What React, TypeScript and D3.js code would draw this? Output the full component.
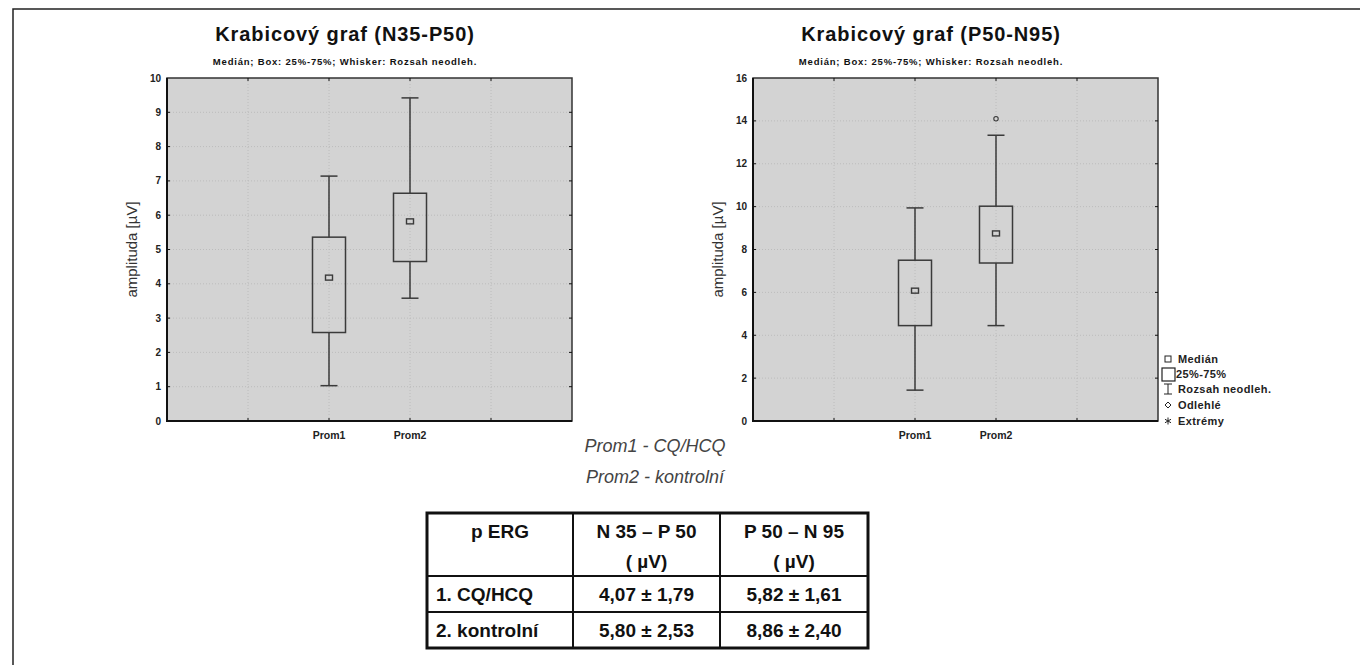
import { useEffect, useRef } from 'react';
import * as d3 from 'd3';

// box plot data
const categories = ['Prom1', 'Prom2'];

const n35p50Min = [1.03, 3.58];
const n35p50Q1 = [2.58, 4.65];
const n35p50Median = [4.18, 5.82];
const n35p50Q3 = [5.36, 6.64];
const n35p50Max = [7.14, 9.42];
const n35p50Outliers: number[][] = [[], []];
const n35p50Ticks = [0, 1, 2, 3, 4, 5, 6, 7, 8, 9, 10];

const p50n95Min = [1.44, 4.45];
const p50n95Q1 = [4.45, 7.37];
const p50n95Median = [6.08, 8.75];
const p50n95Q3 = [7.5, 10.02];
const p50n95Max = [9.94, 13.33];
const p50n95Outliers: number[][] = [[], [14.1]];
const p50n95Ticks = [0, 2, 4, 6, 8, 10, 12, 14, 16];

const legendItems = ['Medián', '25%-75%', 'Rozsah neodleh.', 'Odlehlé', 'Extrémy'];
const captions = ['Prom1 - CQ/HCQ', 'Prom2 - kontrolní'];

const tableHeader = [['p ERG'], ['N 35 – P 50', '( µV)'], ['P 50 – N 95', '( µV)']];
const tableRows = [
  ['1. CQ/HCQ', '4,07 ± 1,79', '5,82 ± 1,61'],
  ['2. kontrolní', '5,80 ± 2,53', '8,86 ± 2,40'],
];

const FONT = "'Liberation Sans', Arial, sans-serif";
const PLOT_BG = '#d3d3d3';
const INK = '#3a3a3a';

interface BoxPanel {
  title: string;
  left: number;
  min: number[];
  q1: number[];
  median: number[];
  q3: number[];
  max: number[];
  outliers: number[][];
  ticks: number[];
}

const panels: BoxPanel[] = [
  {
    title: 'Krabicový graf (N35-P50)',
    left: 167,
    min: n35p50Min,
    q1: n35p50Q1,
    median: n35p50Median,
    q3: n35p50Q3,
    max: n35p50Max,
    outliers: n35p50Outliers,
    ticks: n35p50Ticks,
  },
  {
    title: 'Krabicový graf (P50-N95)',
    left: 753,
    min: p50n95Min,
    q1: p50n95Q1,
    median: p50n95Median,
    q3: p50n95Q3,
    max: p50n95Max,
    outliers: p50n95Outliers,
    ticks: p50n95Ticks,
  },
];

function drawPanel(svg: d3.Selection<SVGSVGElement, unknown, null, undefined>, p: BoxPanel) {
  const top = 78;
  const bottom = 421;
  const width = 405;
  const right = p.left + width;

  const x = d3.scaleLinear().domain([-1, 4]).range([p.left, right]);
  const y = d3
    .scaleLinear()
    .domain([0, d3.max(p.ticks) || 0])
    .range([bottom, top]);

  const g = svg.append('g');

  // titles
  const cx = p.left + 178;
  g.append('text')
    .attr('x', cx)
    .attr('y', 41)
    .attr('text-anchor', 'middle')
    .attr('font-family', FONT)
    .attr('font-weight', 'bold')
    .attr('font-size', 20)
    .attr('letter-spacing', 0.9)
    .attr('fill', '#111')
    .text(p.title);
  g.append('text')
    .attr('x', cx)
    .attr('y', 65)
    .attr('text-anchor', 'middle')
    .attr('font-family', FONT)
    .attr('font-weight', 'bold')
    .attr('font-size', 9.5)
    .attr('letter-spacing', 0.8)
    .attr('fill', '#111')
    .text('Medián; Box: 25%-75%; Whisker: Rozsah neodleh.');

  // plot area
  g.append('rect')
    .attr('x', p.left)
    .attr('y', top)
    .attr('width', width)
    .attr('height', bottom - top)
    .attr('fill', PLOT_BG);

  const xTicks = [0, 1, 2, 3];
  const yInner = p.ticks.slice(1, -1);

  // dotted grid
  g.selectAll('.gx')
    .data(xTicks)
    .join('line')
    .attr('x1', (d) => x(d))
    .attr('x2', (d) => x(d))
    .attr('y1', top)
    .attr('y2', bottom)
    .attr('stroke', '#bcbcbc')
    .attr('stroke-dasharray', '1,2');
  g.selectAll('.gy')
    .data(yInner)
    .join('line')
    .attr('x1', p.left)
    .attr('x2', right)
    .attr('y1', (d) => y(d))
    .attr('y2', (d) => y(d))
    .attr('stroke', '#bcbcbc')
    .attr('stroke-dasharray', '1,2');

  // frame
  g.append('rect')
    .attr('x', p.left)
    .attr('y', top)
    .attr('width', width)
    .attr('height', bottom - top)
    .attr('fill', 'none')
    .attr('stroke', '#333')
    .attr('stroke-width', 1.5);
  g.append('line')
    .attr('x1', p.left)
    .attr('x2', p.left)
    .attr('y1', top)
    .attr('y2', bottom + 1)
    .attr('stroke', '#111')
    .attr('stroke-width', 2);
  g.append('line')
    .attr('x1', p.left - 1)
    .attr('x2', right)
    .attr('y1', bottom)
    .attr('y2', bottom)
    .attr('stroke', '#111')
    .attr('stroke-width', 2);

  // inward ticks on all sides
  xTicks.forEach((t) => {
    g.append('line').attr('x1', x(t)).attr('x2', x(t)).attr('y1', bottom).attr('y2', bottom - 3).attr('stroke', '#111');
    g.append('line').attr('x1', x(t)).attr('x2', x(t)).attr('y1', top).attr('y2', top + 3).attr('stroke', '#111');
  });
  yInner.forEach((t) => {
    g.append('line').attr('x1', p.left).attr('x2', p.left + 3).attr('y1', y(t)).attr('y2', y(t)).attr('stroke', '#111');
    g.append('line').attr('x1', right).attr('x2', right - 3).attr('y1', y(t)).attr('y2', y(t)).attr('stroke', '#111');
  });

  // y tick labels
  g.selectAll('.yl')
    .data(p.ticks)
    .join('text')
    .attr('x', p.left - 6)
    .attr('y', (d) => y(d) + 3.5)
    .attr('text-anchor', 'end')
    .attr('font-family', FONT)
    .attr('font-weight', 'bold')
    .attr('font-size', 10)
    .attr('fill', '#222')
    .text((d) => d);

  // x tick labels
  g.selectAll('.xl')
    .data(categories)
    .join('text')
    .attr('x', (_, i) => x(i + 1))
    .attr('y', 439)
    .attr('text-anchor', 'middle')
    .attr('font-family', FONT)
    .attr('font-weight', 'bold')
    .attr('font-size', 10.5)
    .attr('fill', '#222')
    .text((d) => d);

  // y axis title
  g.append('text')
    .attr('transform', `translate(${p.left - 30},${(top + bottom) / 2}) rotate(-90)`)
    .attr('text-anchor', 'middle')
    .attr('font-family', FONT)
    .attr('font-size', 15)
    .attr('fill', '#333')
    .text('amplituda  [µV]');

  // boxes
  const boxW = 33;
  const capW = 17;
  categories.forEach((_, i) => {
    const bx = x(i + 1);
    const bg = g.append('g').attr('stroke', INK).attr('stroke-width', 1.5).attr('fill', 'none');
    bg.append('line').attr('x1', bx).attr('x2', bx).attr('y1', y(p.max[i])).attr('y2', y(p.q3[i]));
    bg.append('line').attr('x1', bx).attr('x2', bx).attr('y1', y(p.q1[i])).attr('y2', y(p.min[i]));
    bg.append('line').attr('x1', bx - capW / 2).attr('x2', bx + capW / 2).attr('y1', y(p.max[i])).attr('y2', y(p.max[i]));
    bg.append('line').attr('x1', bx - capW / 2).attr('x2', bx + capW / 2).attr('y1', y(p.min[i])).attr('y2', y(p.min[i]));
    bg.append('rect')
      .attr('x', bx - boxW / 2)
      .attr('y', y(p.q3[i]))
      .attr('width', boxW)
      .attr('height', y(p.q1[i]) - y(p.q3[i]));
    bg.append('rect')
      .attr('x', bx - 3.5)
      .attr('y', y(p.median[i]) - 2.5)
      .attr('width', 7)
      .attr('height', 5)
      .attr('stroke-width', 1.4);
    p.outliers[i].forEach((o) => {
      bg.append('circle').attr('cx', bx).attr('cy', y(o)).attr('r', 2.2).attr('stroke-width', 1.1);
    });
  });
}

function drawLegend(svg: d3.Selection<SVGSVGElement, unknown, null, undefined>) {
  const lx = 1168;
  const ys = [359, 374, 389, 405, 421];
  const g = svg.append('g').attr('stroke', '#222').attr('fill', 'none');
  g.append('rect').attr('x', lx - 3).attr('y', ys[0] - 3).attr('width', 6).attr('height', 6).attr('stroke-width', 1);
  g.append('rect').attr('x', lx - 6).attr('y', ys[1] - 6).attr('width', 13).attr('height', 13).attr('stroke-width', 1.2);
  g.append('line').attr('x1', lx).attr('x2', lx).attr('y1', ys[2] - 5).attr('y2', ys[2] + 5);
  g.append('line').attr('x1', lx - 4).attr('x2', lx + 4).attr('y1', ys[2] - 5).attr('y2', ys[2] - 5);
  g.append('line').attr('x1', lx - 4).attr('x2', lx + 4).attr('y1', ys[2] + 5).attr('y2', ys[2] + 5);
  g.append('path')
    .attr('d', `M${lx},${ys[3] - 3}L${lx + 3},${ys[3]}L${lx},${ys[3] + 3}L${lx - 3},${ys[3]}Z`)
    .attr('stroke-width', 1);
  [0, 60, 120].forEach((a) => {
    const r = (a * Math.PI) / 180;
    g.append('line')
      .attr('x1', lx - 3.5 * Math.sin(r))
      .attr('x2', lx + 3.5 * Math.sin(r))
      .attr('y1', ys[4] - 3.5 * Math.cos(r))
      .attr('y2', ys[4] + 3.5 * Math.cos(r))
      .attr('stroke-width', 1);
  });
  svg
    .append('g')
    .selectAll('text')
    .data(legendItems)
    .join('text')
    .attr('x', (_, i) => (i === 1 ? 1176 : 1178))
    .attr('y', (_, i) => ys[i] + 4)
    .attr('font-family', FONT)
    .attr('font-weight', 'bold')
    .attr('font-size', 11)
    .attr('letter-spacing', 0.4)
    .attr('fill', '#222')
    .text((d) => d);
}

function drawTable(svg: d3.Selection<SVGSVGElement, unknown, null, undefined>) {
  const colX = [427, 573, 720, 868];
  const rowY = [513, 576, 612, 648];
  const g = svg.append('g');
  g.append('rect')
    .attr('x', colX[0])
    .attr('y', rowY[0])
    .attr('width', colX[3] - colX[0])
    .attr('height', rowY[3] - rowY[0])
    .attr('fill', '#fff')
    .attr('stroke', '#111')
    .attr('stroke-width', 3);
  colX.slice(1, 3).forEach((cx) => {
    g.append('line').attr('x1', cx).attr('x2', cx).attr('y1', rowY[0]).attr('y2', rowY[3]).attr('stroke', '#111').attr('stroke-width', 2);
  });
  rowY.slice(1, 3).forEach((ry) => {
    g.append('line').attr('x1', colX[0]).attr('x2', colX[3]).attr('y1', ry).attr('y2', ry).attr('stroke', '#111').attr('stroke-width', 2);
  });

  const textAttrs = (t: d3.Selection<SVGTextElement, unknown, null, undefined>) =>
    t.attr('font-family', FONT).attr('font-weight', 'bold').attr('font-size', 19).attr('fill', '#111');

  tableHeader.forEach((lines, c) => {
    lines.forEach((line, k) => {
      textAttrs(
        g
          .append('text')
          .attr('x', (colX[c] + colX[c + 1]) / 2)
          .attr('y', 538 + k * 30)
          .attr('text-anchor', 'middle')
          .text(line)
      );
    });
  });
  tableRows.forEach((row, r) => {
    row.forEach((cell, c) => {
      textAttrs(
        g
          .append('text')
          .attr('x', c === 0 ? colX[0] + 9 : (colX[c] + colX[c + 1]) / 2)
          .attr('y', (rowY[r + 1] + rowY[r + 2]) / 2 + 7)
          .attr('text-anchor', c === 0 ? 'start' : 'middle')
          .text(cell)
      );
    });
  });
}

export default function App() {
  const svgRef = useRef<SVGSVGElement>(null);

  useEffect(() => {
    if (!svgRef.current) return;
    const svg = d3.select(svgRef.current);
    svg.selectAll('*').remove();

    // outer frame of the figure
    svg
      .append('path')
      .attr('d', 'M13,665V9H1360')
      .attr('fill', 'none')
      .attr('stroke', '#222')
      .attr('stroke-width', 1.5);

    panels.forEach((p) => drawPanel(svg, p));
    drawLegend(svg);

    // group captions
    svg
      .append('g')
      .selectAll('text')
      .data(captions)
      .join('text')
      .attr('x', 655)
      .attr('y', (_, i) => 452 + i * 31)
      .attr('text-anchor', 'middle')
      .attr('font-family', FONT)
      .attr('font-style', 'italic')
      .attr('font-size', 18)
      .attr('fill', '#444')
      .text((d) => d);

    drawTable(svg);
  }, []);

  return (
    <svg
      ref={svgRef}
      width={1360}
      height={665}
      viewBox="0 0 1360 665"
      style={{ position: 'absolute', left: 0, top: 0, background: '#fff' }}
    />
  );
}
